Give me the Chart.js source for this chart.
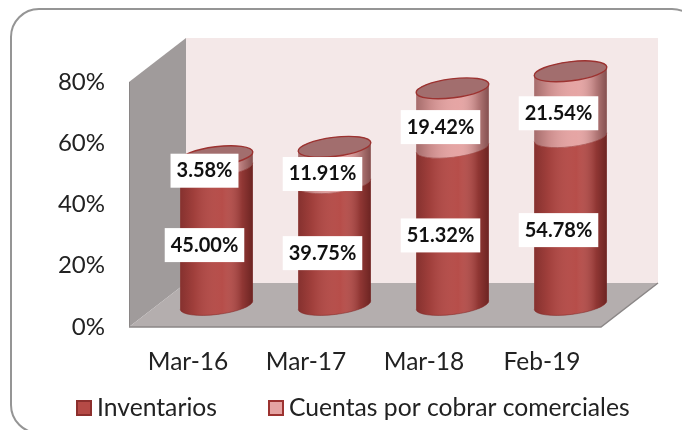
<!DOCTYPE html>
<html>
<head>
<meta charset="utf-8">
<style>html,body{margin:0;padding:0;background:#fff}canvas{display:block}</style>
<script src="https://cdn.jsdelivr.net/npm/chart.js@4"></script>
</head>
<body>
<canvas id="c" width="682" height="430"></canvas>
<script>
const categories = ['Mar-16', 'Mar-17', 'Mar-18', 'Feb-19'];
const inventarios = [45.00, 39.75, 51.32, 54.78];
const cuentas = [3.58, 11.91, 19.42, 21.54];
const seriesNames = ['Inventarios', 'Cuentas por cobrar comerciales'];
const yTicks = [0, 20, 40, 60, 80];

const FONT = 'Lato, Carlito, sans-serif';
const DX = 28.5, DY = 22;          // half of the 3D depth: bars stand mid-floor
const RY = 9.5, ROT = -7 * Math.PI / 180;
let drawingIndex = 0;

// Cylinder look for the library's own bar elements
Chart.BarElement.prototype.draw = function (ctx) {
  const { x, y, base, width } = this;
  const o = this.options;
  const rx = width / 2;
  const cx = x + DX, top = y - DY, bot = base - DY;
  const isTop = drawingIndex === 1;
  const ex = rx * Math.cos(ROT), ey = rx * Math.sin(ROT);
  ctx.save();
  ctx.beginPath();
  ctx.ellipse(cx, bot, rx, RY, ROT, Math.PI, 0, true);   // front of the base
  ctx.lineTo(cx + ex, top + ey);
  if (isTop) ctx.ellipse(cx, top, rx, RY, ROT, 0, Math.PI, true);   // back of the top
  else ctx.ellipse(cx, top, rx, RY, ROT, 0, Math.PI, false);        // front of the joint
  ctx.closePath();
  ctx.fillStyle = o.backgroundColor;
  ctx.fill();
  const g = ctx.createLinearGradient(cx - rx, 0, cx + rx, 0);
  g.addColorStop(0, 'rgba(40,0,0,.34)');
  g.addColorStop(0.2, 'rgba(40,0,0,.14)');
  g.addColorStop(0.58, 'rgba(255,255,255,.02)');
  g.addColorStop(0.85, 'rgba(40,0,0,.26)');
  g.addColorStop(1, 'rgba(40,0,0,.52)');
  ctx.fillStyle = g;
  ctx.fill();
  ctx.lineWidth = 1;
  ctx.strokeStyle = 'rgba(130,40,38,.55)';
  ctx.beginPath();
  ctx.ellipse(cx, bot, rx, RY, ROT, Math.PI, 0, true);
  ctx.stroke();
  if (isTop) {
    ctx.beginPath();
    ctx.ellipse(cx, top, rx, RY, ROT, 0, Math.PI * 2);
    ctx.fillStyle = '#a26e6e';
    ctx.fill();
    ctx.lineWidth = 1.4;
    ctx.strokeStyle = o.borderColor;
    ctx.stroke();
  }
  ctx.restore();
};

const frame = {
  id: 'frame',
  beforeDatasetDraw(chart, args) { drawingIndex = args.index; },
  beforeDraw(chart) {
    const { ctx } = chart;
    ctx.save();
    ctx.fillStyle = '#fff';
    ctx.fillRect(0, 0, chart.width, chart.height);
    ctx.beginPath();
    ctx.roundRect(11, 9, 689, 424, 28);
    ctx.lineWidth = 2;
    ctx.strokeStyle = '#959595';
    ctx.stroke();
    ctx.restore();
  },
  beforeDatasetsDraw(chart) {
    const { ctx, chartArea: a } = chart;
    const bx = DX * 2, by = DY * 2;
    ctx.save();
    // back wall
    ctx.fillStyle = '#f4e8e8';
    ctx.fillRect(a.left + bx, a.top - by, a.right - a.left, a.bottom - a.top);
    // side wall
    ctx.beginPath();
    ctx.moveTo(a.left, a.top);
    ctx.lineTo(a.left + bx, a.top - by);
    ctx.lineTo(a.left + bx, a.bottom - by);
    ctx.lineTo(a.left, a.bottom);
    ctx.closePath();
    ctx.fillStyle = '#a09b9b';
    ctx.fill();
    ctx.beginPath();
    ctx.moveTo(a.left + .5, a.top);
    ctx.lineTo(a.left + .5, a.bottom);
    ctx.strokeStyle = '#8a8686';
    ctx.lineWidth = 1;
    ctx.stroke();
    // floor
    ctx.beginPath();
    ctx.moveTo(a.left, a.bottom);
    ctx.lineTo(a.left + bx, a.bottom - by);
    ctx.lineTo(a.right + bx, a.bottom - by);
    ctx.lineTo(a.right, a.bottom);
    ctx.closePath();
    ctx.fillStyle = '#b4aeae';
    ctx.fill();
    ctx.beginPath();
    ctx.moveTo(a.left, a.bottom);
    ctx.lineTo(a.right, a.bottom);
    ctx.lineTo(a.right + bx, a.bottom - by);
    ctx.strokeStyle = '#8b8787';
    ctx.lineWidth = 1.5;
    ctx.stroke();
    ctx.restore();
  },
  afterDatasetsDraw(chart) {
    const { ctx } = chart;
    ctx.save();
    ctx.font = 'bold 20px ' + FONT;
    ctx.textAlign = 'center';
    ctx.textBaseline = 'middle';
    chart.data.datasets.forEach((ds, i) => {
      chart.getDatasetMeta(i).data.forEach((el, j) => {
        const t = ds.data[j].toFixed(2) + '%';
        const w = ctx.measureText(t).width + 12, h = 34;
        const cx = el.x + DX - 12, cy = (el.y + el.base) / 2 - DY + 9;
        ctx.fillStyle = '#fff';
        ctx.fillRect(cx - w / 2, cy - h / 2, w, h);
        ctx.fillStyle = '#111';
        ctx.fillText(t, cx, cy);
      });
    });
    // legend, placed as in the reference
    ctx.font = '24.7px ' + FONT;
    ctx.textAlign = 'left';
    const legendY = 408, starts = [76, 268];
    chart.data.datasets.forEach((ds, i) => {
      const x = starts[i];
      ctx.fillStyle = ds.backgroundColor;
      ctx.strokeStyle = ds.borderColor;
      ctx.lineWidth = 2;
      ctx.fillRect(x + 1, legendY - 7, 14, 14);
      ctx.strokeRect(x + 1, legendY - 7, 14, 14);
      ctx.fillStyle = '#222';
      ctx.fillText(ds.label, x + 21, legendY);
    });
    ctx.restore();
  }
};

new Chart(document.getElementById('c'), {
  type: 'bar',
  data: {
    labels: categories,
    datasets: [
      { label: seriesNames[0], data: inventarios, clip: false,
        backgroundColor: '#b54a46', borderColor: '#8c2f2d', borderWidth: 2 },
      { label: seriesNames[1], data: cuentas, clip: false,
        backgroundColor: '#e5a3a2', borderColor: '#9c3230', borderWidth: 2 }
    ]
  },
  options: {
    responsive: false,
    animation: false,
    layout: { padding: { top: 82, right: 81, bottom: 0, left: 0 } },
    barPercentage: 0.62,
    categoryPercentage: 1,
    scales: {
      x: {
        stacked: true,
        grid: { display: false },
        border: { display: false },
        ticks: { color: '#222', font: { family: FONT, size: 24.5 }, padding: 12, maxRotation: 0 },
        afterFit(s) { s.height = 103; }
      },
      y: {
        stacked: true,
        min: 0, max: 80,
        afterBuildTicks(s) { s.ticks = yTicks.map(v => ({ value: v })); },
        grid: { display: false },
        border: { display: false },
        ticks: { color: '#222', font: { family: FONT, size: 24 }, padding: 16,
                 callback: v => v + '%' },
        afterFit(s) { s.width = 129; }
      }
    },
    plugins: {
      tooltip: { enabled: false },
      legend: { display: false }
    }
  },
  plugins: [frame]
});
</script>
</body>
</html>
